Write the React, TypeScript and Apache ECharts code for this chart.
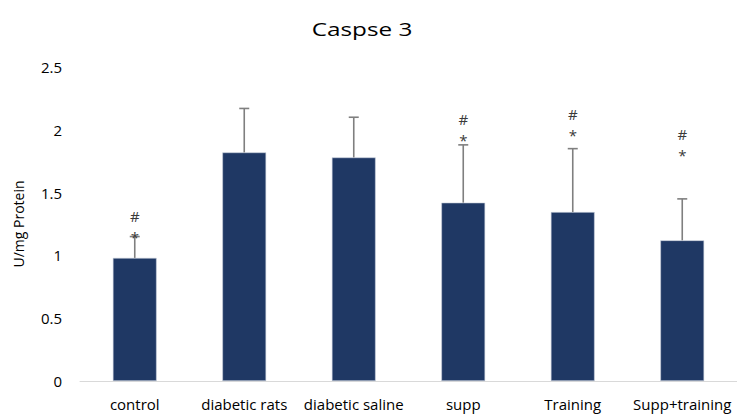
import React, { useEffect, useRef } from "react";
import * as echarts from "echarts";

const categories = ["control", "diabetic rats", "diabetic saline", "supp", "Training", "Supp+training"];
const means = [0.98, 1.82, 1.78, 1.42, 1.345, 1.12];
const errorTops = [1.15, 2.17, 2.1, 1.88, 1.85, 1.45];
// height (in axis units) of the "*" marker; "#" sits just above it
const markerLevels: (number | null)[] = [1.17, null, null, 1.94, 1.98, 1.82];
const yTicks = { min: 0, max: 2.5, interval: 0.5 };
const titleText = "Caspse 3";

const FONT = "'Open Sans', sans-serif";
const MARK_COLOR = "#3a3a3a";

export default function App() {
  const ref = useRef<HTMLDivElement>(null);

  useEffect(() => {
    if (!ref.current) return;
    const chart = echarts.init(ref.current, null, { renderer: "svg" });

    const errData = categories.map((_, i) => [i, means[i], errorTops[i]]);
    const markData = categories
      .map((_, i) => [i, markerLevels[i]])
      .filter((d) => d[1] != null);

    chart.setOption({
      animation: false,
      backgroundColor: "#ffffff",
      textStyle: { fontFamily: FONT },
      // wide title, drawn as a horizontally stretched text element
      graphic: [
        {
          type: "text",
          x: 362,
          y: 29,
          scaleX: 1.35,
          style: {
            text: titleText,
            fontFamily: FONT,
            fontSize: 18,
            fill: "#000",
            align: "center",
            verticalAlign: "middle",
          },
        },
      ],
      grid: { left: 80, right: -5, top: 67, bottom: 33 },
      xAxis: {
        type: "category",
        data: categories,
        axisLine: { lineStyle: { color: "#d9d9d9", width: 1 } },
        axisTick: { show: false },
        axisLabel: { color: "#000", fontSize: 15, margin: 15, fontFamily: FONT, interval: 0 },
      },
      yAxis: {
        type: "value",
        min: yTicks.min,
        max: yTicks.max,
        interval: yTicks.interval,
        name: "U/mg Protein",
        nameLocation: "middle",
        nameGap: 55,
        nameTextStyle: { color: "#000", fontSize: 14, fontFamily: FONT },
        axisLine: { show: false },
        axisTick: { show: false },
        splitLine: { show: false },
        axisLabel: { color: "#000", fontSize: 15, margin: 18, fontFamily: FONT },
      },
      series: [
        {
          type: "bar",
          data: means,
          barWidth: "40%",
          itemStyle: { color: "#1f3864", borderColor: "#c9d0dc", borderWidth: 0.6 },
        },
        {
          type: "custom",
          data: errData,
          z: 3,
          itemStyle: { color: "#7f7f7f" },
          renderItem: (params: any, api: any) => {
            const x = api.value(0);
            const base = api.coord([x, api.value(1)]);
            const top = api.coord([x, api.value(2)]);
            const half = 5;
            const style = { stroke: "#7f7f7f", lineWidth: 1.6 };
            return {
              type: "group",
              children: [
                { type: "line", shape: { x1: base[0], y1: base[1], x2: top[0], y2: top[1] }, style },
                { type: "line", shape: { x1: top[0] - half, y1: top[1], x2: top[0] + half, y2: top[1] }, style },
              ],
            };
          },
        },
        {
          type: "custom",
          data: markData,
          z: 4,
          colorBy: "series",
          itemStyle: { color: MARK_COLOR },
          renderItem: (params: any, api: any) => {
            const p = api.coord([api.value(0), api.value(1)]);
            const ts = {
              fill: MARK_COLOR,
              fontSize: 15,
              fontFamily: FONT,
              align: "center",
              verticalAlign: "middle",
            };
            return {
              type: "group",
              children: [
                { type: "text", x: p[0], y: p[1] + 3, style: { ...ts, text: "*" } },
                { type: "text", x: p[0], y: p[1] - 18, style: { ...ts, text: "#" } },
              ],
            };
          },
        },
      ],
    });

    return () => chart.dispose();
  }, []);

  return <div ref={ref} style={{ width: 737, height: 414, position: "absolute", left: 0, top: 0 }} />;
}
